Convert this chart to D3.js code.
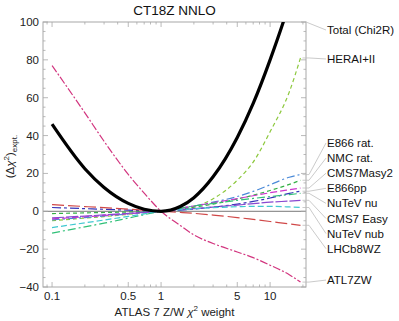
<!DOCTYPE html>
<html><head><meta charset="utf-8">
<script src="https://cdn.jsdelivr.net/npm/d3@7"></script>
<style>body{margin:0;background:#fff}svg{display:block;font-family:"Liberation Sans",Arial,sans-serif}</style>
</head><body><svg id="c" width="399" height="321"></svg>
<script>
// ---- data ----
const weights = [0.1, 0.2, 0.3, 0.5, 0.7, 1, 1.5, 2, 3, 5, 7, 10, 15, 19];
const total     = [46, 22.5, 12.6, 4.2, 1.1, 0, 2.5, 7.2, 18.2, 39, 57, 80, 110, 131];
const heraI_II  = [-5, -3.6, -2.8, -1.6, -0.8, 0, 0.7, 2.3, 6.6, 16.4, 26, 42, 63, 81];
const e866rat   = [-4.5, -3.3, -2.5, -1.4, -0.7, 0, 1.5, 2.8, 4.8, 7.8, 10.5, 14, 18, 19.4];
const nmcrat    = [-1.2, -0.85, -0.65, -0.37, -0.2, 0, 1.2, 2.2, 3.8, 6.5, 8.5, 11, 14.2, 16.4];
const cms7masy2 = [-4, -2.9, -2.2, -1.3, -0.65, 0, 1.6, 2.8, 4.5, 6.7, 8.2, 9.8, 11.4, 12.3];
const e866pp    = [2, 1.4, 1.05, 0.6, 0.3, 0, 0.6, 1.2, 2.2, 3.8, 5.2, 7, 9.5, 10.6];
const nutevnu   = [-11.5, -8.2, -6.3, -3.6, -1.8, 0, 1.6, 2.8, 4.2, 5.8, 6.8, 7.8, 8.8, 9.5];
const cms7easy  = [-3.5, -2.5, -1.9, -1.1, -0.55, 0, 0.8, 1.4, 2.2, 3.3, 4, 4.8, 5.4, 5.8];
const nutevnub  = [-8.6, -6.1, -4.6, -2.7, -1.35, 0, 0.8, 1.3, 1.9, 2.4, 2.6, 2.6, 2.3, 2.0];
const lhcb8wz   = [3.5, 2.5, 1.9, 1.1, 0.55, 0, -0.6, -1.1, -2.0, -3.3, -4.3, -5.4, -6.7, -7.4];
const atl7zw    = [77, 52, 37, 19.5, 9.6, 0, -7.5, -12.5, -17, -21.5, -24.5, -28.5, -33.5, -37.4];

const seriesNames = ["Total (Chi2R)","HERAI+II","E866 rat.","NMC rat.","CMS7Masy2","E866pp","NuTeV nu","CMS7 Easy","NuTeV nub","LHCb8WZ","ATL7ZW"];
const seriesValues = [total, heraI_II, e866rat, nmcrat, cms7masy2, e866pp, nutevnu, cms7easy, nutevnub, lhcb8wz, atl7zw];
const xMajorTicks = [0.1, 0.5, 1, 5, 10];
const xMinorTicks = [0.09, 0.2, 0.3, 0.4, 0.6, 0.7, 0.8, 0.9, 2, 3, 4, 6, 7, 8, 9, 20];
const yMajorTicks = [-40, -20, 0, 20, 40, 60, 80, 100];

// ---- styles ----
const styles = [
  {c:"#000000", w:3.2, d:null},
  {c:"#8cc83c", w:1.2, d:"4,3"},
  {c:"#4a8ad8", w:1.2, d:"8,3,2,3"},
  {c:"#35b045", w:1.2, d:"4,3"},
  {c:"#cc35cc", w:1.2, d:"7,3"},
  {c:"#3434b8", w:1.2, d:"9,3,3,3"},
  {c:"#30c078", w:1.2, d:"8,3,2,3"},
  {c:"#8848d0", w:1.2, d:"12,2"},
  {c:"#40c8d0", w:1.2, d:"6,3"},
  {c:"#d04848", w:1.2, d:"12,4"},
  {c:"#d2357f", w:1.2, d:"8,2,2,2"}
];

const svg = d3.select("#c");
const L = 43, R = 306, T = 22, B = 287;
const x = d3.scaleLog().domain([0.0826, 21.35]).range([L, R]);
const y = d3.scaleLinear().domain([-40, 100]).range([B, T]);
const frameCol = "#a8a8a8";

svg.append("defs").append("clipPath").attr("id","clip")
  .append("rect").attr("x",L).attr("y",T).attr("width",R-L).attr("height",B-T);

// title
svg.append("text").attr("x",(L+R)/2).attr("y",15).attr("text-anchor","middle")
  .attr("font-size",13.5).attr("fill","#111").text("CT18Z NNLO");

// zero line
svg.append("line").attr("x1",L).attr("x2",R).attr("y1",y(0)).attr("y2",y(0))
  .attr("stroke","#777").attr("stroke-width",1);

// frame
svg.append("rect").attr("x",L).attr("y",T).attr("width",R-L).attr("height",B-T)
  .attr("fill","none").attr("stroke",frameCol).attr("stroke-width",1);

// ticks
const tg = svg.append("g").attr("stroke",frameCol).attr("stroke-width",0.8);
xMajorTicks.forEach(v=>{
  tg.append("line").attr("x1",x(v)).attr("x2",x(v)).attr("y1",B).attr("y2",B-5);
  tg.append("line").attr("x1",x(v)).attr("x2",x(v)).attr("y1",T).attr("y2",T+5);
});
xMinorTicks.forEach(v=>{
  tg.append("line").attr("x1",x(v)).attr("x2",x(v)).attr("y1",B).attr("y2",B-2.5);
  tg.append("line").attr("x1",x(v)).attr("x2",x(v)).attr("y1",T).attr("y2",T+2.5);
});
d3.range(-40, 101, 5).forEach(v=>{
  const len = v % 20 === 0 ? 5 : 2.5;
  tg.append("line").attr("x1",L).attr("x2",L+len).attr("y1",y(v)).attr("y2",y(v));
  tg.append("line").attr("x1",R).attr("x2",R-len).attr("y1",y(v)).attr("y2",y(v));
});

// tick labels
const fmtX = d => d3.format("~g")(d);
svg.append("g").selectAll("text").data(xMajorTicks).join("text")
  .attr("x",d=>x(d)).attr("y",B+13).attr("text-anchor","middle")
  .attr("font-size",11.5).attr("fill","#222").text(fmtX);
svg.append("g").selectAll("text").data(yMajorTicks).join("text")
  .attr("x",L-4).attr("y",d=>y(d)+4).attr("text-anchor","end")
  .attr("font-size",11.5).attr("fill","#222").text(d=>d<0?"\u2212"+Math.abs(d):d);

// axis titles
const xt = svg.append("text").attr("x",(L+R)/2).attr("y",316).attr("text-anchor","middle")
  .attr("font-size",11.5).attr("fill","#222");
xt.append("tspan").text("ATLAS 7 Z/W ");
xt.append("tspan").attr("font-style","italic").text("\u03c7");
xt.append("tspan").attr("font-size",8).attr("dy",-5).text("2");
xt.append("tspan").attr("dy",5).text(" weight");

const yt = svg.append("text").attr("transform",`translate(14,${(T+B)/2+2}) rotate(-90)`)
  .attr("text-anchor","middle").attr("font-size",11.5).attr("fill","#222");
yt.append("tspan").text("(\u0394");
yt.append("tspan").attr("font-style","italic").text("\u03c7");
yt.append("tspan").attr("font-size",8).attr("dy",-5).text("2");
yt.append("tspan").attr("dy",5).text(")");
yt.append("tspan").attr("font-size",8).attr("dy",3).text("expt.");

// curves
const line = d3.line().x((d,i)=>x(weights[i])).y(d=>y(d)).curve(d3.curveMonotoneX);
const cg = svg.append("g").attr("clip-path","url(#clip)");
// draw thin ones first, total on top
const order = [10,1,2,3,4,5,6,7,8,9,0];
order.forEach(i=>{
  cg.append("path").attr("d",line(seriesValues[i])).attr("fill","none")
    .attr("stroke",styles[i].c).attr("stroke-width",styles[i].w)
    .attr("stroke-dasharray",styles[i].d).attr("stroke-linejoin","round");
});

// labels with leader lines
const labelX = 327;
const clusterTop = 143, clusterStep = 15.1;
const labelY = seriesNames.map((n,i)=>{
  if (i===0) return T + 8;
  if (i===1) return y(heraI_II[heraI_II.length-1]) + 1;
  if (i===10) return y(atl7zw[atl7zw.length-1]) - 2;
  return clusterTop + (i-2)*clusterStep;
});
const lg = svg.append("g");
seriesNames.forEach((n,i)=>{
  const v = seriesValues[i];
  let sx, sy;
  if (i===0) { sx = R; sy = T; }
  else { sx = x(weights[weights.length-1]) + 2; sy = y(v[v.length-1]); }
  const pts = (i===0) ? [[sx,sy],[labelX-1,labelY[i]]] :
    [[sx,sy],[R+3,sy],[labelX-1,labelY[i]]];
  lg.append("path").attr("d",d3.line()(pts)).attr("fill","none")
    .attr("stroke","#bdbdbd").attr("stroke-width",0.8);
  lg.append("text").attr("x",labelX).attr("y",labelY[i]+4)
    .attr("font-size",11.5).attr("fill","#111").text(n);
});
</script></body></html>
